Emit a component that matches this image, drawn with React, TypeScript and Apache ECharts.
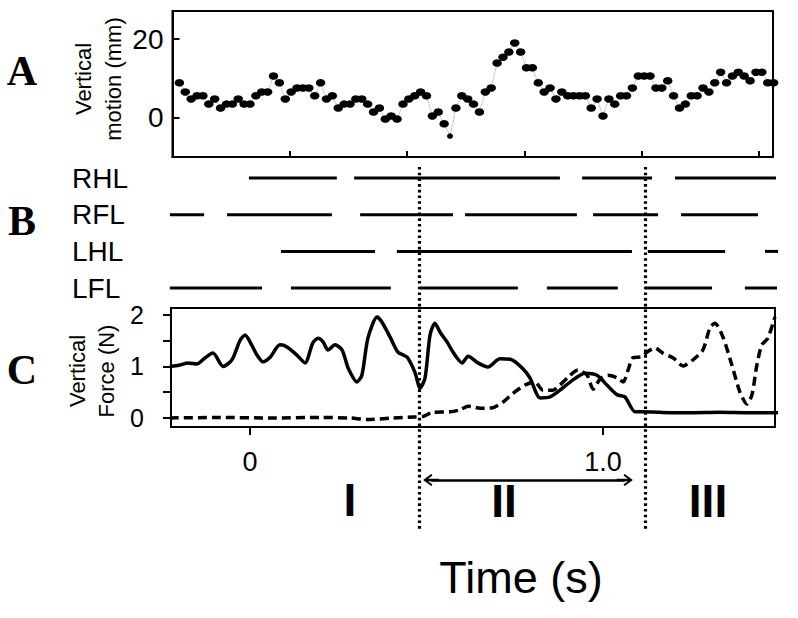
import React, { useEffect, useRef } from "react";
import * as echarts from "echarts";

// ---------- DATA ----------
// Panel A: vertical motion (mm), sampled at 60 frames/s starting at t = -0.2 s
const MOTION_FRAME_RATE = 60;
const MOTION_START_T = -0.2;
const motionMm = [
  8.9, 6.6, 4.8, 5.6, 5.6, 3.5, 4.8, 2.5, 3.5, 3.5,
  4.8, 3.5, 3.5, 5.6, 6.6, 6.6, 10.6, 8.9, 4.8, 6.6,
  7.6, 7.6, 7.6, 5.6, 8.9, 4.8, 5.6, 2.5, 3.5, 3.5,
  4.8, 4.8, 3.5, 1.5, 2.5, -0.3, 0.5, -0.3, 3.5, 4.8,
  5.6, 6.6, 5.6, 0.5, 1.5, -1.5, -4.6, 2.5, 5.6, 4.8,
  3.5, 1.5, 6.6, 7.6, 13.9, 15.4, 16.7, 19.0, 16.7, 12.7,
  12.7, 8.9, 6.6, 7.6, 4.8, 6.6, 5.6, 5.6, 5.6, 5.6,
  2.5, 4.8, 0.5, 4.8, 3.5, 5.6, 5.6, 7.6, 10.6, 10.6,
  10.6, 7.6, 7.6, 9.4, 5.6, 2.5, 3.5, 5.6, 5.6, 7.6,
  6.6, 8.9, 11.6, 8.9, 10.6, 11.6, 10.6, 9.4, 11.6, 11.6,
  8.9, 8.9,
];
const motionYTicks = [0, 20];
const motionXTicks = [0.113, 0.445, 0.777, 1.109, 1.44];

// Panel B: stance phases (s) per limb
const limbNames = ["RHL", "RFL", "LHL", "LFL"];
const rhlStance = [[-0.003, 0.246], [0.295, 0.878], [0.941, 1.139], [1.204, 1.49]];
const rflStance = [[-0.227, -0.13], [-0.065, 0.232], [0.312, 0.575], [0.609, 0.926], [0.972, 1.156], [1.221, 1.439]];
const lhlStance = [[0.088, 0.354], [0.416, 1.082], [1.127, 1.346], [1.459, 1.496]];
const lflStance = [[-0.227, 0.034], [0.116, 0.399], [0.482, 0.759], [0.841, 1.042], [1.119, 1.309], [1.402, 1.493]];

// Panel C: vertical force (N) [time s, force N]
const forceSolid = [
  [-0.227, 1.0], [-0.198, 1.03], [-0.176, 1.07], [-0.15, 1.05], [-0.127, 1.17], [-0.105, 1.26],
  [-0.076, 1.0], [-0.051, 1.13], [-0.028, 1.51], [-0.014, 1.61], [0.0, 1.48], [0.02, 1.22],
  [0.037, 1.09], [0.057, 1.18], [0.085, 1.42], [0.105, 1.38], [0.133, 1.22], [0.156, 1.07],
  [0.178, 1.46], [0.193, 1.55], [0.207, 1.48], [0.221, 1.32], [0.241, 1.42], [0.261, 1.32],
  [0.278, 0.97], [0.303, 0.7], [0.317, 0.83], [0.334, 1.55], [0.36, 1.96], [0.374, 1.86],
  [0.397, 1.57], [0.419, 1.28], [0.445, 1.18], [0.467, 0.89], [0.482, 0.58], [0.496, 0.78],
  [0.51, 1.61], [0.524, 1.84], [0.538, 1.67], [0.558, 1.48], [0.575, 1.28], [0.601, 1.07],
  [0.618, 1.2], [0.646, 1.07], [0.674, 0.99], [0.708, 1.15], [0.742, 1.13], [0.771, 0.97],
  [0.793, 0.78], [0.822, 0.39], [0.85, 0.41], [0.878, 0.54], [0.915, 0.74], [0.949, 0.87],
  [0.983, 0.83], [1.011, 0.64], [1.04, 0.45], [1.062, 0.41], [1.091, 0.12], [1.113, 0.12],
  [1.161, 0.11], [1.246, 0.1], [1.331, 0.11], [1.416, 0.1], [1.496, 0.1],
];
const forceDashed = [
  [-0.227, 0.0], [-0.085, 0.01], [0.057, 0.0], [0.198, 0.01], [0.283, 0.0], [0.331, -0.03],
  [0.405, 0.0], [0.462, 0.02], [0.49, 0.03], [0.518, 0.11], [0.567, 0.12], [0.595, 0.16],
  [0.618, 0.23], [0.652, 0.19], [0.688, 0.2], [0.717, 0.31], [0.745, 0.48], [0.779, 0.64],
  [0.807, 0.7], [0.83, 0.54], [0.858, 0.54], [0.878, 0.64], [0.907, 0.83], [0.929, 0.93],
  [0.955, 0.83], [0.972, 0.56], [0.992, 0.76], [1.014, 0.83], [1.04, 0.78], [1.057, 0.7],
  [1.071, 0.93], [1.085, 1.17], [1.11, 1.19], [1.125, 1.28], [1.147, 1.36], [1.17, 1.26],
  [1.198, 1.17], [1.227, 1.01], [1.255, 1.13], [1.283, 1.32], [1.303, 1.75], [1.317, 1.84],
  [1.34, 1.57], [1.365, 1.03], [1.388, 0.5], [1.408, 0.27], [1.422, 0.45], [1.436, 1.03],
  [1.45, 1.42], [1.467, 1.55], [1.487, 1.96],
];
const forceYTicks = [0, 0.5, 1, 1.5, 2];
const forceYLabels = [0, 1, 2];
const timeTicks = [0, 1];

// Phase boundaries (s) and phase labels
const phaseBoundaries = [0.48, 1.118];
const phaseArrow = [0.513, 1.062];
const phaseNames = ["I", "II", "III"];

// ---------- BUILD ----------
const SANS = "'Liberation Sans', Arial, Helvetica, sans-serif";
const SERIF = "'Liberation Serif', 'Times New Roman', serif";
const BLACK = "#000";

const motionData = motionMm.map((v, i) => [MOTION_START_T + i / MOTION_FRAME_RATE, v]);
const minMotion = Math.min(...motionMm);
const stanceByLimb = [rhlStance, rflStance, lhlStance, lflStance];
const stanceData: number[][] = [];
stanceByLimb.forEach((list, row) => list.forEach(([a, b]) => stanceData.push([a, b, row])));

const ARROW_PATH =
  "path://M5,0 L10,8.2 L8.7,9.4 L6,5 L6,16 L4,16 L4,5 L1.3,9.4 L0,8.2 Z";

const txt = (
  text: string,
  x: number,
  y: number,
  size: number,
  opts: { weight?: string; family?: string; rotation?: number; lineHeight?: number } = {}
) => ({
  type: "text",
  x,
  y,
  rotation: opts.rotation || 0,
  silent: true,
  style: {
    text,
    fill: BLACK,
    fontSize: size,
    fontWeight: opts.weight || "normal",
    fontFamily: opts.family || SANS,
    align: "center",
    verticalAlign: "middle",
    lineHeight: opts.lineHeight,
  },
});

const option: any = {
  animation: false,
  backgroundColor: "#fff",
  grid: [
    { left: 172.5, top: 11, width: 600.5, height: 146, show: true, borderColor: BLACK, borderWidth: 2, backgroundColor: "transparent" },
    { left: 171, top: 159.7, width: 604, height: 146.7 },
    { left: 171, top: 308, width: 604, height: 119, show: true, borderColor: BLACK, borderWidth: 2, backgroundColor: "transparent" },
    { left: 171, top: 167, width: 604, height: 363 },
  ],
  xAxis: [
    {
      gridIndex: 0, type: "value", min: -0.2195, max: 1.4816,
      axisLine: { show: true, onZero: false, lineStyle: { color: BLACK, width: 2 } },
      axisTick: { show: true, inside: true, length: 6, customValues: motionXTicks, lineStyle: { color: BLACK, width: 2 } },
      axisLabel: { show: false },
      splitLine: { show: false },
    },
    { gridIndex: 1, type: "value", min: -0.2238, max: 1.4873, show: false, splitLine: { show: false } },
    {
      gridIndex: 2, type: "value", min: -0.2238, max: 1.4873,
      axisLine: { show: true, onZero: false, lineStyle: { color: BLACK, width: 2 } },
      axisTick: { show: true, inside: false, length: 8, customValues: timeTicks, lineStyle: { color: BLACK, width: 2 } },
      axisLabel: {
        show: true, customValues: timeTicks, margin: 21, color: BLACK, fontSize: 27, fontFamily: SANS,
        formatter: (v: number) => (v === 0 ? "0" : v.toFixed(1)),
      },
      splitLine: { show: false },
    },
    { gridIndex: 3, type: "value", min: -0.2238, max: 1.4873, show: false, splitLine: { show: false } },
  ],
  yAxis: [
    {
      gridIndex: 0, type: "value", min: -9.9, max: 27.1,
      axisLine: { show: true, onZero: false, lineStyle: { color: BLACK, width: 2 } },
      axisTick: { show: true, inside: true, length: 7, customValues: motionYTicks, lineStyle: { color: BLACK, width: 2 } },
      axisLabel: { show: true, customValues: motionYTicks, margin: 9, color: BLACK, fontSize: 28, fontFamily: SANS },
      splitLine: { show: false },
    },
    {
      gridIndex: 1, type: "category", data: limbNames, inverse: true,
      axisLine: { show: false }, axisTick: { show: false }, splitLine: { show: false },
      axisLabel: { show: true, align: "left", margin: 99, color: BLACK, fontSize: 28, fontFamily: SANS },
    },
    {
      gridIndex: 2, type: "value", min: -0.175, max: 2.136,
      axisLine: { show: true, onZero: false, lineStyle: { color: BLACK, width: 2 } },
      axisTick: { show: true, inside: false, length: 8, customValues: forceYTicks, lineStyle: { color: BLACK, width: 2 } },
      axisLabel: { show: true, customValues: forceYLabels, margin: 27, color: BLACK, fontSize: 25, fontFamily: SANS },
      splitLine: { show: false },
    },
    { gridIndex: 3, type: "value", min: 0, max: 363, inverse: true, show: false, splitLine: { show: false } },
  ],
  series: [
    {
      name: "Vertical motion",
      type: "line",
      xAxisIndex: 0, yAxisIndex: 0,
      data: motionData,
      clip: false,
      showAllSymbol: true,
      symbol: "circle",
      symbolSize: (v: number[]) => (v[1] === minMotion ? [6, 5.5] : [9.5, 7.5]),
      itemStyle: { color: BLACK },
      lineStyle: { color: "#999", width: 1, type: "dotted" },
      z: 3,
    },
    {
      name: "Stance",
      type: "custom",
      xAxisIndex: 1, yAxisIndex: 1,
      data: stanceData,
      encode: { x: [0, 1], y: 2 },
      clip: false,
      renderItem: (_p: any, api: any) => {
        const row = api.value(2);
        const a = api.coord([api.value(0), row]);
        const b = api.coord([api.value(1), row]);
        return {
          type: "line",
          shape: { x1: a[0], y1: a[1], x2: b[0], y2: b[1] },
          style: { stroke: BLACK, lineWidth: 3 },
        };
      },
    },
    {
      name: "Force solid",
      type: "line",
      xAxisIndex: 2, yAxisIndex: 2,
      data: forceSolid,
      symbol: "none",
      smooth: 0.25,
      clip: false,
      lineStyle: { color: BLACK, width: 3.5 },
    },
    {
      name: "Force dashed",
      type: "line",
      xAxisIndex: 2, yAxisIndex: 2,
      data: forceDashed,
      symbol: "none",
      smooth: 0.25,
      clip: false,
      lineStyle: { color: BLACK, width: 3.5, type: [9, 5] },
    },
    {
      name: "Phases",
      type: "line",
      xAxisIndex: 3, yAxisIndex: 3,
      data: [[phaseBoundaries[0], 0]],
      symbol: "none",
      lineStyle: { opacity: 0 },
      z: 10,
      markLine: {
        silent: true,
        animation: false,
        symbol: "none",
        label: { show: false },
        data: [
          ...phaseBoundaries.map((t) => ({
            xAxis: t,
            lineStyle: { color: BLACK, width: 3.2, type: [2.6, 3.1], cap: "butt" },
          })),
          [
            { coord: [phaseArrow[0], 313], symbol: ARROW_PATH, symbolSize: [12, 16] },
            { coord: [phaseArrow[1], 313], symbol: ARROW_PATH, symbolSize: [12, 16], lineStyle: { color: BLACK, width: 2.5, type: "solid" } },
          ],
        ],
      },
    },
  ],
  graphic: [
    txt("A", 22, 71, 42, { weight: "bold", family: SERIF }),
    txt("B", 22, 221, 42, { weight: "bold", family: SERIF }),
    txt("C", 22, 370, 42, { weight: "bold", family: SERIF }),
    txt("Vertical\nmotion (mm)", 98, 79, 22, { rotation: Math.PI / 2, lineHeight: 30 }),
    txt("Vertical\nForce (N)", 92, 371, 22, { rotation: Math.PI / 2, lineHeight: 29 }),
    txt(phaseNames[0], 350, 500, 46, { weight: "bold" }),
    txt(phaseNames[1], 504, 501, 46, { weight: "bold" }),
    txt(phaseNames[2], 708, 501, 46, { weight: "bold" }),
    txt("Time (s)", 521, 577, 45),
  ],
};

export default function App() {
  const ref = useRef<HTMLDivElement>(null);
  useEffect(() => {
    if (!ref.current) return;
    const chart = echarts.init(ref.current, null, { renderer: "svg" });
    chart.setOption(option);
    return () => chart.dispose();
  }, []);
  return (
    <div
      ref={ref}
      style={{ position: "fixed", left: 0, top: 0, width: 798, height: 618, background: "#fff" }}
    />
  );
}
